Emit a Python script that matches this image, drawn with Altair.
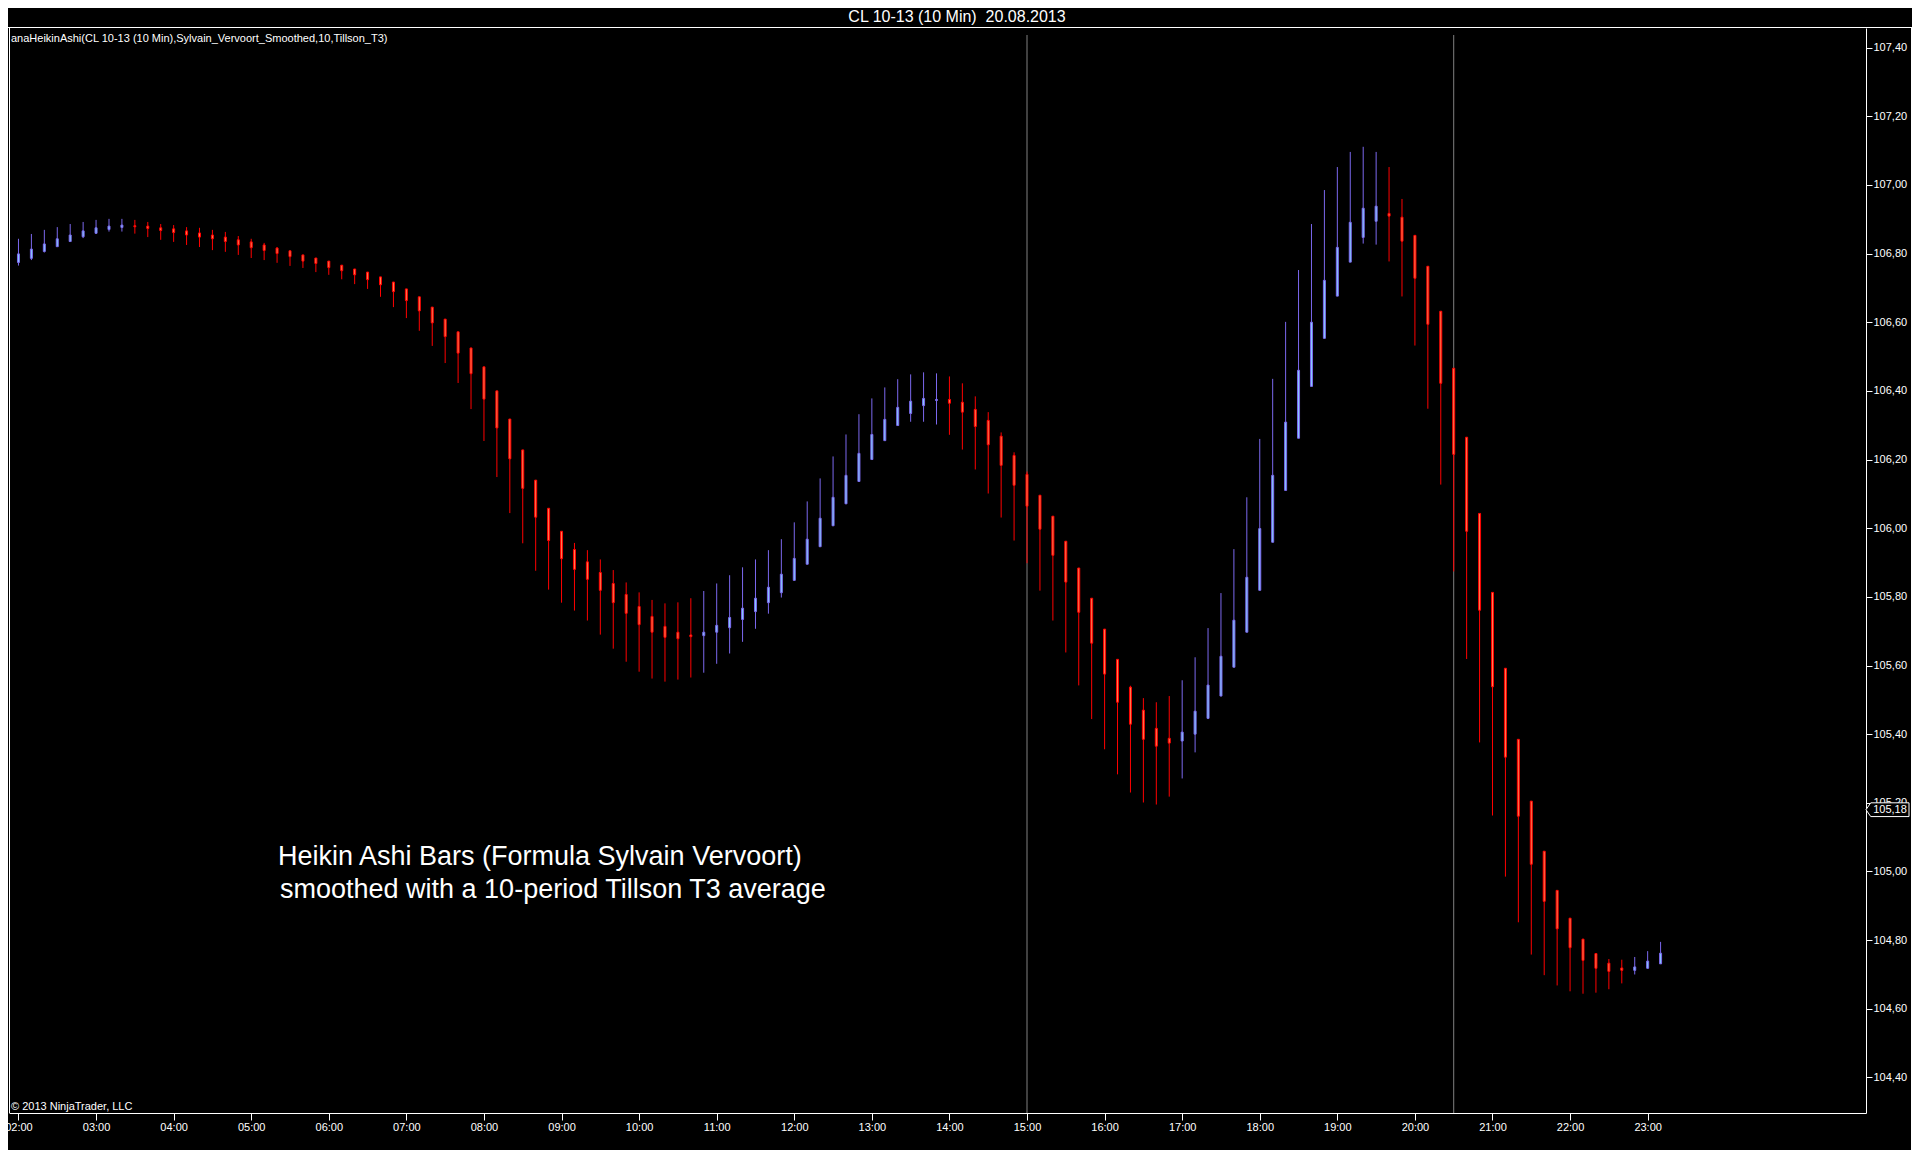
import altair as alt
import pandas as pd

# ---- data (Heikin Ashi smoothed bars, 10-min, starting 02:00) ----
opens = [106.774, 106.786, 106.806, 106.820, 106.835, 106.849, 106.859, 106.870, 106.876, 106.881,
         106.880, 106.875, 106.872, 106.866, 106.860, 106.854, 106.848, 106.840, 106.834, 106.825,
         106.816, 106.808, 106.796, 106.787, 106.778, 106.766, 106.755, 106.746, 106.732, 106.717,
         106.697, 106.674, 106.644, 106.609, 106.572, 106.525, 106.470, 106.400, 106.318, 106.228,
         106.140, 106.058, 105.991, 105.938, 105.902, 105.871, 105.839, 105.807, 105.772, 105.743,
         105.714, 105.697, 105.689, 105.687, 105.697, 105.710, 105.734, 105.757, 105.783, 105.812,
         105.848, 105.895, 105.946, 106.007, 106.071, 106.136, 106.200, 106.255, 106.299, 106.334,
         106.357, 106.372, 106.375, 106.367, 106.346, 106.314, 106.268, 106.212, 106.157, 106.096,
         106.035, 105.962, 105.884, 105.796, 105.706, 105.618, 105.537, 105.470, 105.417, 105.388,
         105.380, 105.400, 105.446, 105.511, 105.595, 105.697, 105.819, 105.959, 106.110, 106.262,
         106.413, 106.553, 106.676, 106.775, 106.847, 106.894, 106.917, 106.906, 106.853, 106.763,
         106.632, 106.466, 106.265, 106.043, 105.813, 105.592, 105.385, 105.205, 105.059, 104.945,
         104.864, 104.803, 104.761, 104.733, 104.719, 104.712, 104.718, 104.731]
highs = [106.843, 106.857, 106.869, 106.877, 106.886, 106.892, 106.898, 106.901, 106.901, 106.898,
         106.892, 106.886, 106.883, 106.877, 106.875, 106.869, 106.863, 106.851, 106.843, 106.831,
         106.819, 106.808, 106.796, 106.787, 106.778, 106.767, 106.755, 106.746, 106.732, 106.717,
         106.697, 106.674, 106.644, 106.609, 106.572, 106.525, 106.470, 106.400, 106.318, 106.228,
         106.140, 106.058, 105.991, 105.957, 105.936, 105.909, 105.878, 105.842, 105.813, 105.791,
         105.781, 105.784, 105.796, 105.817, 105.839, 105.863, 105.886, 105.909, 105.936, 105.968,
         106.017, 106.078, 106.145, 106.209, 106.273, 106.332, 106.378, 106.410, 106.434, 106.448,
         106.454, 106.451, 106.442, 106.422, 106.384, 106.338, 106.279, 106.221, 106.165, 106.096,
         106.035, 105.962, 105.884, 105.796, 105.706, 105.618, 105.541, 105.505, 105.493, 105.511,
         105.557, 105.624, 105.709, 105.811, 105.939, 106.090, 106.260, 106.435, 106.601, 106.752,
         106.886, 106.985, 107.052, 107.096, 107.111, 107.096, 107.052, 106.959, 106.853, 106.763,
         106.632, 106.466, 106.265, 106.043, 105.813, 105.592, 105.385, 105.205, 105.059, 104.945,
         104.864, 104.803, 104.761, 104.745, 104.743, 104.751, 104.768, 104.795]
lows = [106.765, 106.781, 106.803, 106.820, 106.834, 106.845, 106.857, 106.864, 106.864, 106.858,
        106.848, 106.840, 106.834, 106.825, 106.819, 106.810, 106.805, 106.796, 106.787, 106.781,
        106.773, 106.764, 106.758, 106.746, 106.738, 106.725, 106.711, 106.697, 106.674, 106.644,
        106.612, 106.575, 106.531, 106.481, 106.423, 106.347, 106.254, 106.149, 106.044, 105.956,
        105.876, 105.821, 105.783, 105.760, 105.731, 105.690, 105.649, 105.611, 105.582, 105.562,
        105.553, 105.559, 105.565, 105.579, 105.605, 105.635, 105.669, 105.707, 105.751, 105.798,
        105.848, 105.895, 105.946, 106.007, 106.071, 106.136, 106.200, 106.255, 106.299, 106.310,
        106.310, 106.302, 106.272, 106.229, 106.171, 106.101, 106.031, 105.964, 105.898, 105.818,
        105.731, 105.638, 105.542, 105.444, 105.356, 105.283, 105.230, 105.201, 105.195, 105.218,
        105.271, 105.347, 105.444, 105.511, 105.595, 105.697, 105.819, 105.959, 106.110, 106.262,
        106.413, 106.553, 106.676, 106.775, 106.829, 106.826, 106.777, 106.675, 106.532, 106.348,
        106.127, 105.874, 105.619, 105.376, 105.163, 104.985, 104.852, 104.758, 104.698, 104.668,
        104.651, 104.644, 104.647, 104.657, 104.674, 104.700, 104.717, 104.731]
closes = [106.799, 106.813, 106.828, 106.843, 106.854, 106.866, 106.875, 106.880, 106.883, 106.878,
          106.873, 106.867, 106.861, 106.854, 106.848, 106.843, 106.835, 106.825, 106.817, 106.809,
          106.800, 106.791, 106.778, 106.771, 106.759, 106.750, 106.738, 106.724, 106.709, 106.689,
          106.663, 106.633, 106.598, 106.558, 106.510, 106.450, 106.376, 106.292, 106.202, 106.116,
          106.032, 105.964, 105.911, 105.880, 105.851, 105.819, 105.783, 105.752, 105.719, 105.697,
          105.682, 105.678, 105.684, 105.697, 105.717, 105.740, 105.767, 105.796, 105.828, 105.866,
          105.912, 105.968, 106.029, 106.090, 106.154, 106.218, 106.273, 106.317, 106.352, 106.370,
          106.378, 106.375, 106.364, 106.338, 106.296, 106.243, 106.183, 106.125, 106.064, 105.997,
          105.921, 105.843, 105.755, 105.665, 105.575, 105.493, 105.429, 105.385, 105.365, 105.374,
          105.406, 105.467, 105.543, 105.627, 105.732, 105.857, 105.999, 106.154, 106.309, 106.460,
          106.600, 106.722, 106.818, 106.891, 106.932, 106.938, 106.909, 106.836, 106.728, 106.594,
          106.422, 106.215, 105.991, 105.761, 105.538, 105.333, 105.161, 105.021, 104.913, 104.833,
          104.778, 104.741, 104.718, 104.709, 104.712, 104.722, 104.739, 104.762]

start_minute = 120          # 02:00
bar_minutes = 10
session_breaks = [900, 1230]  # 15:00 and 20:30 (minutes of day)
last_price = [105.18]
hour_ticks = [120 + 60 * h for h in range(22)]            # 02:00 ... 23:00
price_ticks = [round(104.4 + 0.2 * i, 2) for i in range(16)]  # 104,40 ... 107,40

title_text = "CL 10-13 (10 Min)\u00a0 20.08.2013"
indicator_text = "anaHeikinAshi(CL 10-13 (10 Min),Sylvain_Vervoort_Smoothed,10,Tillson_T3)"
copyright_text = "\u00a9 2013 NinjaTrader, LLC"
note_line1 = "Heikin Ashi Bars (Formula Sylvain Vervoort)"
note_line2 = "smoothed with a 10-period Tillson T3 average"

# ---- build table ----
times = [start_minute + bar_minutes * i for i in range(len(opens))]
df = pd.DataFrame({"t": times, "open": opens, "high": highs, "low": lows, "close": closes})
df["dir"] = ["up" if c >= o else "down" for o, c in zip(opens, closes)]

W, H = 1857, 1085
FONT = "Liberation Sans"
RED, RED_FILL = "#FF0000", "#FF7F50"
BLUE, BLUE_FILL = "#7B68EE", "#87CEFA"

xscale = alt.Scale(domain=[116.5385, 1545.0], nice=False, zero=False)
yscale = alt.Scale(domain=[104.2965, 107.457], nice=False, zero=False)

x_enc = alt.X("t:Q", scale=xscale,
              axis=alt.Axis(values=hour_ticks, title=None, grid=False,
                            labelExpr="(floor(datum.value/60) < 10 ? '0' : '') + floor(datum.value/60) + ':00'",
                            tickSize=7, labelPadding=1, domainColor="white", tickColor="white",
                            labelColor="white", labelFontSize=11, labelFont=FONT, orient="bottom"))

one = pd.DataFrame({"k": [0]})

sess = alt.Chart(pd.DataFrame({"t": session_breaks})).mark_rule(color="#808080", strokeWidth=1).encode(
    x=x_enc, y=alt.value(7), y2=alt.value(H))

stroke_scale = alt.Scale(domain=["up", "down"], range=[BLUE, RED])
fill_scale = alt.Scale(domain=["up", "down"], range=[BLUE_FILL, RED_FILL])

wicks = alt.Chart(df).mark_rule(strokeWidth=1).encode(
    x=x_enc,
    y=alt.Y("low:Q", scale=yscale,
            axis=alt.Axis(values=price_ticks, orient="right", title=None, grid=False,
                          labelExpr="replace(format(datum.value, '.2f'), '.', ',')",
                          tickSize=6, labelPadding=1, domainColor="white", tickColor="white",
                          labelColor="white", labelFontSize=11, labelFont=FONT)),
    y2="high:Q",
    stroke=alt.Stroke("dir:N", scale=stroke_scale, legend=None),
)

bodies = alt.Chart(df).mark_bar(size=2, strokeWidth=1).encode(
    x=x_enc,
    y=alt.Y("open:Q", scale=yscale),
    y2="close:Q",
    fill=alt.Fill("dir:N", scale=fill_scale, legend=None),
    stroke=alt.Stroke("dir:N", scale=stroke_scale, legend=None),
)

lp = pd.DataFrame({"p": last_price})
lp["label"] = [f"{v:.2f}".replace(".", ",") for v in last_price]
marker = alt.Chart(lp).mark_point(
    shape="M-1,0 L-0.78,-0.32 L1,-0.32 L1,0.32 L-0.78,0.32 Z", size=1849, filled=True,
    fill="black", stroke="white", strokeWidth=1, opacity=1).encode(
    x=alt.value(W + 21.5), y=alt.Y("p:Q", scale=yscale))
marker_text = alt.Chart(lp).mark_text(color="white", font=FONT, fontSize=11, align="center",
                                      baseline="middle").encode(
    x=alt.value(W + 24), y=alt.Y("p:Q", scale=yscale), text="label:N")

def frame(**kw):
    return alt.Chart(one).mark_rule(color="white", strokeWidth=1).encode(**kw)

top_line = frame(x=alt.value(-2), x2=alt.value(1905), y=alt.value(-0.5))
left_line = frame(x=alt.value(0.5), y=alt.value(-1), y2=alt.value(H))
right_line = frame(x=alt.value(1902.5), y=alt.value(-1), y2=alt.value(1123))
bottom_line = frame(x=alt.value(-2), x2=alt.value(1905), y=alt.value(1122.5))

def label(text, x, y, size, align="left", baseline="middle"):
    return alt.Chart(one).mark_text(text=text, color="white", font=FONT, fontSize=size,
                                    align=align, baseline=baseline).encode(
        x=alt.value(x), y=alt.value(y))

title = label(title_text, 948, -11, 16, align="center")
indicator = label(indicator_text, 2, 11, 11)
copyright_ = label(copyright_text, 2, 1079, 11)
note1 = label(note_line1, 269, 837, 27, baseline="alphabetic")
note2 = label(note_line2, 271, 870, 27, baseline="alphabetic")

chart = alt.layer(
    sess, wicks, bodies, marker, marker_text,
    top_line, left_line, right_line, bottom_line,
    title, indicator, copyright_, note1, note2,
).properties(
    width=W, height=H,
    padding={"left": 1, "top": 20, "right": 46, "bottom": 38},
    autosize=alt.AutoSizeParams(type="none"),
).configure(background="black").configure_view(stroke=None)

chart.save("out.html", embed_options={"renderer": "svg", "actions": False})
